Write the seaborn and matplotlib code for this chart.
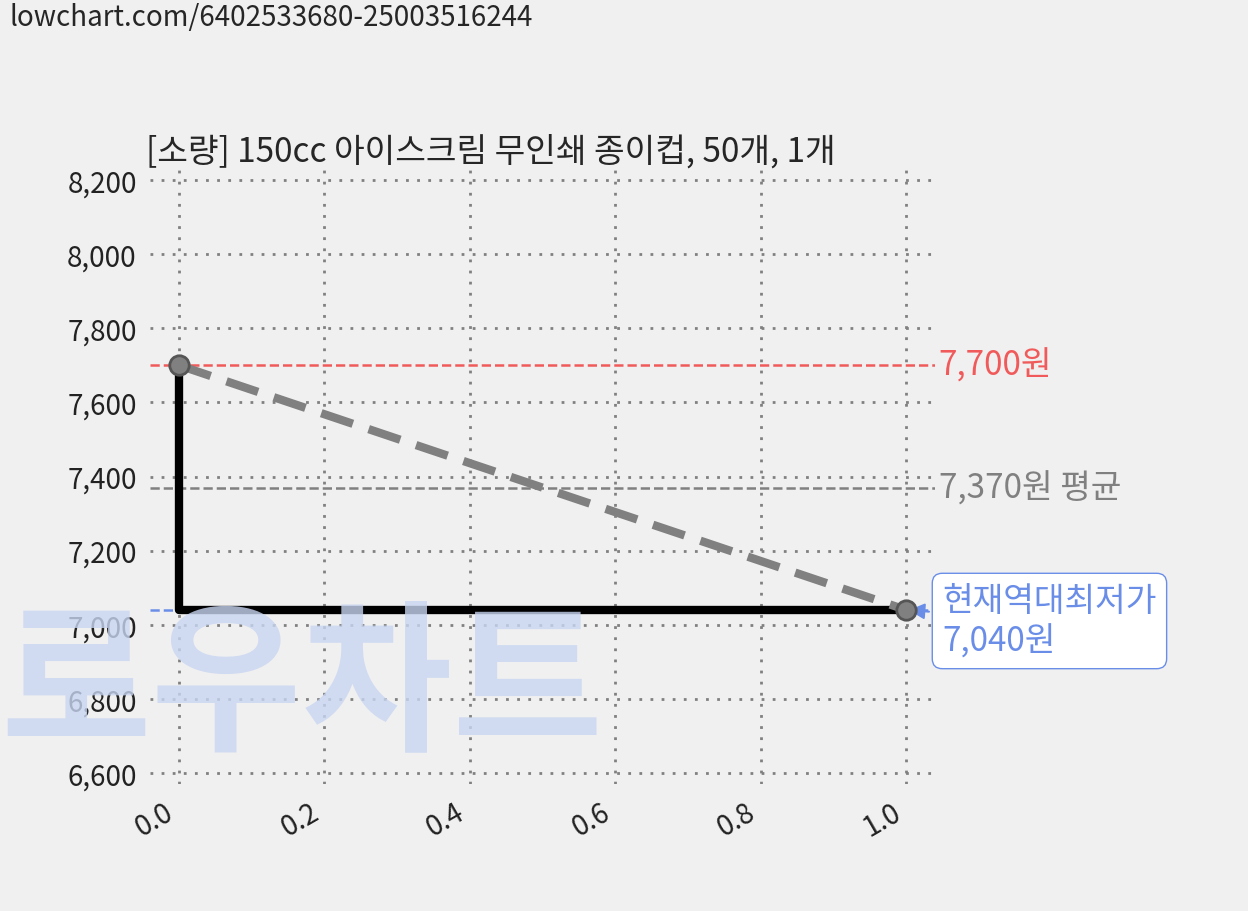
import matplotlib
matplotlib.use('Agg')
import matplotlib.pyplot as plt
import seaborn as sns
import pandas as pd

title = '[소량] 150cc 아이스크림 무인쇄 종이컵, 50개, 1개'
url = 'lowchart.com/6402533680-25003516244'
xs = [0.0, 1.0]
prices = [7700, 7040]
max_price = 7700
avg_price = 7370
min_price = 7040

sns.set_theme(style='white')
plt.rcParams['font.family'] = ['Noto Sans CJK KR', 'DejaVu Sans']

fig = plt.figure(figsize=(12.48, 9.12), dpi=100, facecolor='#f0f0f0')
ax = fig.add_axes([150/1248, 1-785/912, 785/1248, (785-170)/912])
ax.set_facecolor('none')

# watermark
fig.text(0.0, 1-772/912, '로우차트', fontsize=118, fontweight='black', style='italic',
         color='#c8d6f2', alpha=0.8, zorder=0, va='bottom')

df = pd.DataFrame({'x': xs, 'price': prices})
ax.grid(True, color='gray', linestyle=(0, (1, 3)), linewidth=2)
for s in ax.spines.values():
    s.set_visible(False)

ax.axhline(max_price, color='#f05a5a', linestyle='--', linewidth=1.8)
ax.axhline(avg_price, color='gray', linestyle='--', linewidth=1.8)
ax.axhline(min_price, color='#6a8ee8', linestyle='--', linewidth=1.8)

ax.plot([xs[0], xs[0], xs[1]], [prices[0], prices[1], prices[1]], color='black', linewidth=6, zorder=3)
sns.lineplot(data=df, x='x', y='price', ax=ax, color='gray', linewidth=6,
             linestyle=(0, (4, 2)), marker='o', markersize=14, markeredgecolor='#555555',
             markeredgewidth=2, zorder=4)

ax.set_xlim(-0.04, 1.04)
ax.set_ylim(6570, 8230)
ax.set_yticks(range(6600, 8201, 200))
ax.set_yticklabels([f'{v:,}' for v in range(6600, 8201, 200)])
ax.set_xticks([0, 0.2, 0.4, 0.6, 0.8, 1.0])
ax.set_xticklabels(['0.0', '0.2', '0.4', '0.6', '0.8', '1.0'], rotation=30, ha='right')
ax.tick_params(labelsize=20, colors='#222222')
ax.set_xlabel(''); ax.set_ylabel('')
ax.set_title(title, fontsize=24, loc='left', x=-0.005)

ax.text(1.045, max_price, f'{max_price:,}원', color='#f05a5a', fontsize=24, va='center')
ax.text(1.045, avg_price, f'{avg_price:,}원 평균', color='gray', fontsize=24, va='center')
ax.annotate(f'현재역대최저가\n{min_price:,}원', xy=(1.0, min_price), xytext=(1.05, min_price - 30),
            color='#6a8ee8', fontsize=24, va='center', annotation_clip=False,
            bbox=dict(boxstyle='round,pad=0.3', fc='white', ec='#6a8ee8'),
            arrowprops=dict(arrowstyle='-|>', color='#6a8ee8', lw=1.5))

fig.text(10/1248, 1-18/912, url, fontsize=20, va='center')

plt.savefig('out.png', dpi=100, facecolor=fig.get_facecolor())
